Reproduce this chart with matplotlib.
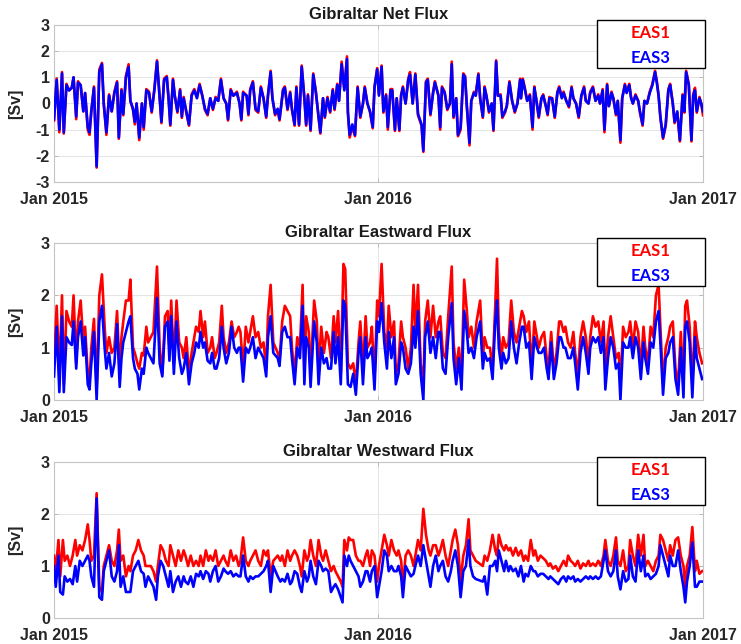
import numpy as np # numerical arrays and dates
import matplotlib
matplotlib.use('Agg')
import matplotlib.pyplot as plt # plotting
from matplotlib.patches import Rectangle # legend box

# ---- data (days since 1 Jan 2015, flux in Sv) ----
net_days = [0,3,6,9,11,14,17,20,22,25,27,30,33,35,38,40,42,45,48,51,
            54,56,59,62,65,68,71,73,76,78,81,84,86,89,91,93,96,99,101,104,
            107,110,113,116,119,121,124,127,129,131,134,136,139,142,144,146,149,152,155,158,
            161,164,167,170,173,176,179,182,185,188,191,194,196,199,202,206,209,211,213,217,
            219,221,224,227,230,233,236,239,241,244,246,249,252,254,258,260,263,266,268,271,
            273,276,279,282,284,286,289,292,295,298,300,303,305,308,311,314,316,319,321,324,
            327,330,331,333,336,339,342,345,348,350,353,356,359,361,364,
            366,369,371,374,376,379,381,384,386,389,391,393,396,399,401,404,407,410,414,416,
            419,421,424,427,429,433,435,437,440,443,446,448,450,453,455,458,461,463,465,468,
            470,473,475,478,480,483,485,487,490,493,495,498,500,503,505,508,510,513,516,519,
            522,525,526,528,530,533,536,539,541,543,546,549,551,554,556,558,561,564,567,569,
            572,574,577,580,583,585,588,591,594,597,599,602,604,607,610,613,615,618,620,623,
            625,628,630,633,635,638,640,643,645,648,650,652,655,658,660,663,665,668,671,674,
            677,679,681,683,686,689,692,694,697,699,702,705,708,710,712,715,718,720,722,724,
            727,729,731]
net_eas1 = [-0.65,0.95,-1.1,1.2,-1.15,0.75,0.5,0.6,1.0,-0.6,
            0.85,0.7,-0.3,0.4,-1.0,-1.2,-0.3,0.65,-2.45,1.3,
            1.55,0.0,-1.2,0.35,-0.3,0.45,0.85,-1.35,0.55,-0.45,
            1.05,1.5,0.1,-0.25,-0.8,0.0,-1.4,0.0,-1.0,0.55,
            0.45,-0.35,0.55,1.65,0.2,-0.75,0.95,1.05,0.2,-0.85,
            0.95,0.3,-0.35,0.55,-0.55,0.25,-0.35,-0.85,0.35,0.55,
            0.25,0.75,0.3,-0.25,-0.45,0.2,-0.25,0.25,0.1,0.95,
            0.2,0.0,-0.65,0.55,0.3,0.45,0.0,-0.65,0.45,0.3,
            -0.45,0.55,0.85,-0.25,-0.35,0.65,0.2,-0.55,0.3,1.25,
            0.2,-0.45,-0.25,-0.65,0.55,0.65,-0.25,0.45,-0.25,-0.85,
            0.65,-0.85,1.45,0.2,-0.85,0.35,-1.05,1.15,0.45,-0.55,
            -1.15,0.2,-0.55,0.25,-0.35,0.55,-0.25,0.75,0.1,1.6,
            0.55,1.8,-0.35,-1.3,-0.9,-1.25,0.65,-0.55,0.0,0.65,
            0.0,-0.35,-0.95,0.65,1.35,
            0.35,1.45,-0.35,0.35,-1.0,0.55,0.55,-1.05,0.2,-1.05,
            0.35,0.65,0.0,0.95,1.2,0.0,1.15,-0.45,-0.85,-1.85,
            0.85,0.95,-0.45,0.45,0.85,0.3,-1.0,0.65,0.45,-0.25,
            0.0,1.6,-0.55,0.2,-1.25,-1.0,1.15,1.05,-0.1,-1.6,
            0.1,0.45,0.3,1.15,0.2,-0.55,0.65,0.3,-0.35,0.0,
            -1.05,1.65,0.3,0.35,-0.55,-0.35,-0.1,0.85,0.1,-0.35,
            0.0,0.95,0.2,0.95,0.65,0.1,0.35,-1.0,0.65,0.2,
            -0.55,0.2,0.35,-0.1,-0.45,0.25,0.2,-0.55,0.45,0.65,
            0.25,0.45,0.1,-0.15,0.65,0.2,0.0,-0.55,0.3,0.65,
            0.1,0.0,0.45,0.65,0.1,0.35,0.0,0.55,-1.1,0.75,
            -0.1,0.45,0.2,-0.45,0.1,-1.5,0.2,0.75,0.45,0.75,
            0.25,0.0,0.35,0.1,-0.35,-0.85,0.1,0.0,0.45,0.75,
            1.25,0.85,0.3,-0.55,-1.35,-0.85,0.55,0.75,0.0,-0.75,
            -0.35,-1.45,0.35,-0.35,1.25,0.75,-1.45,0.35,0.6,-0.35,
            0.25,0.0,-0.45]
net_eas3 = [-0.6,0.9,-1.0,1.15,-1.1,0.7,0.5,0.6,1.0,-0.5,
            0.8,0.7,-0.3,0.4,-0.9,-1.1,-0.3,0.6,-2.4,1.2,
            1.5,0.0,-1.1,0.3,-0.3,0.4,0.8,-1.3,0.5,-0.4,
            1.0,1.4,0.1,-0.2,-0.7,0.0,-1.3,0.0,-0.9,0.5,
            0.4,-0.3,0.5,1.6,0.2,-0.7,0.9,1.0,0.2,-0.8,
            0.9,0.3,-0.3,0.5,-0.5,0.2,-0.3,-0.8,0.3,0.5,
            0.2,0.7,0.3,-0.2,-0.4,0.2,-0.2,0.2,0.1,0.9,
            0.2,0.0,-0.6,0.5,0.3,0.4,0.0,-0.6,0.4,0.3,
            -0.4,0.5,0.8,-0.2,-0.3,0.6,0.2,-0.5,0.3,1.2,
            0.2,-0.4,-0.2,-0.6,0.5,0.6,-0.2,0.4,-0.2,-0.8,
            0.6,-0.8,1.4,0.2,-0.8,0.3,-1.0,1.1,0.4,-0.5,
            -1.1,0.2,-0.5,0.2,-0.3,0.5,-0.2,0.7,0.1,1.5,
            0.5,1.7,-0.3,-1.2,-0.8,-1.2,0.6,-0.5,0.0,0.6,
            0.0,-0.3,-0.9,0.6,1.3,
            0.3,1.4,-0.3,0.3,-0.9,0.5,0.5,-1.0,0.2,-1.0,
            0.3,0.6,0.0,0.9,1.1,0.0,1.1,-0.4,-0.8,-1.8,
            0.8,0.9,-0.4,0.4,0.8,0.3,-0.9,0.6,0.4,-0.2,
            0.0,1.5,-0.5,0.2,-1.2,-0.9,1.1,1.0,-0.1,-1.5,
            0.1,0.4,0.3,1.1,0.2,-0.5,0.6,0.3,-0.3,0.0,
            -1.0,1.6,0.3,0.3,-0.5,-0.3,-0.1,0.8,0.1,-0.3,
            0.0,0.9,0.2,0.9,0.6,0.1,0.3,-0.9,0.6,0.2,
            -0.5,0.2,0.3,-0.1,-0.4,0.2,0.2,-0.5,0.4,0.6,
            0.2,0.4,0.1,-0.1,0.6,0.2,0.0,-0.5,0.3,0.6,
            0.1,0.0,0.4,0.6,0.1,0.3,0.0,0.5,-1.0,0.7,
            -0.1,0.4,0.2,-0.4,0.1,-1.4,0.2,0.7,0.4,0.7,
            0.2,0.0,0.3,0.1,-0.3,-0.8,0.1,0.0,0.4,0.7,
            1.2,0.8,0.3,-0.5,-1.3,-0.8,0.5,0.7,0.0,-0.7,
            -0.3,-1.4,0.3,-0.3,1.2,0.7,-1.4,0.3,0.5,-0.3,
            0.2,0.0,-0.3]

east_days = [0,3,6,9,11,14,17,20,22,25,27,30,33,35,38,40,42,45,48,51,
             54,57,59,62,65,68,71,74,76,78,81,84,86,89,91,94,96,99,101,104,
             106,109,112,116,119,122,125,128,130,132,135,138,141,144,146,149,152,155,158,160,
             163,165,168,170,173,176,178,181,183,186,189,191,194,197,200,203,206,208,210,213,
             216,219,221,224,227,230,233,236,239,241,244,247,
             252,254,257,260,263,266,268,271,274,277,280,282,284,287,289,293,296,298,301,304,
             307,309,312,315,317,320,323,326,328,331,334,337,340,343,345,348,351,353,356,358,
             361,364,366,369,372,375,377,380,383,385,388,391,393,396,399,402,405,407,410,413,
             416,418,421,424,427,430,433,435,438,441,444,448,450,453,456,459,462,465,467,470,
             473,476,
             480,483,485,488,491,494,497,499,501,504,506,509,512,515,518,521,524,527,529,532,
             535,538,541,544,546,549,552,555,557,560,563,566,569,571,574,576,579,582,585,587,
             590,593,596,599,602,604,607,610,613,616,619,621,624,627,630,633,636,638,641,644,
             647,649,652,655,658,661,664,666,669,672,675,678,681,683,686,689,692,694,697,700,
             703,706,709,711,713,716,719,722,724,727,730]
east_eas1 = [0.7,1.8,0.5,2.0,0.3,1.7,1.5,1.4,2.0,0.7,1.5,1.9,1.1,1.4,0.5,0.35,1.0,1.55,0.2,2.0,
             2.4,1.4,0.9,1.2,0.9,1.0,1.7,0.5,1.2,1.5,1.9,1.9,2.3,1.0,0.9,0.7,0.6,0.9,0.85,1.4,
             1.1,1.2,1.3,2.55,1.0,0.5,1.6,1.7,1.0,1.9,0.7,1.9,1.1,1.0,0.8,1.2,0.5,0.9,1.2,1.4,
             1.3,1.7,1.2,1.5,0.9,1.0,1.2,0.8,0.9,1.1,1.8,1.2,0.9,1.1,1.5,1.2,1.3,1.4,1.3,0.6,
             1.4,1.1,1.3,1.6,1.2,1.3,1.0,1.1,0.6,1.6,2.2,1.1,
             0.9,0.75,1.5,1.8,1.7,1.6,1.0,0.5,1.2,1.0,2.2,0.5,1.6,1.3,0.5,1.9,1.5,0.55,1.4,0.9,
             1.3,1.2,0.8,1.6,1.1,1.7,0.5,2.6,2.5,0.7,0.6,0.7,0.3,1.1,1.5,0.6,1.6,1.0,1.1,1.4,
             0.4,1.9,1.6,2.6,1.3,1.0,1.8,1.2,1.5,0.5,0.7,1.5,1.2,1.0,0.6,1.0,2.2,1.3,2.2,0.7,
             0.3,1.5,1.9,1.2,1.8,1.2,1.5,1.6,0.9,0.8,1.6,2.55,1.1,0.6,1.0,0.4,2.3,1.7,1.2,1.4,
             1.0,1.5,
             1.9,0.8,1.2,1.0,1.0,0.6,1.8,2.7,1.3,0.8,1.2,1.0,1.1,1.9,1.3,1.1,1.4,1.7,1.6,1.3,
             1.5,0.6,1.5,1.2,1.0,1.2,1.3,0.8,0.6,1.3,0.55,0.9,1.5,1.5,1.3,1.4,1.1,1.0,1.3,0.9,
             0.5,1.2,1.5,1.2,0.7,1.2,1.6,1.4,1.5,1.1,1.5,0.5,1.2,1.6,1.2,0.8,0.9,0.3,1.4,1.2,
             1.3,1.5,1.0,1.5,1.3,0.6,1.4,1.0,0.7,1.4,1.2,2.0,2.2,1.4,0.3,1.0,1.2,1.4,1.5,0.6,
             0.3,1.3,0.3,1.8,1.9,1.4,0.3,1.5,1.2,0.9,0.7]
east_eas3 = [0.45,1.4,0.15,1.6,0.15,1.2,1.1,1.05,1.5,0.6,1.2,1.5,0.85,1.2,0.3,0.2,0.7,1.3,0.0,1.5,
             1.8,1.0,0.6,0.9,0.45,0.7,1.45,0.25,0.8,1.1,1.3,1.5,1.6,0.8,0.6,0.5,0.2,0.6,0.5,1.0,
             0.9,0.8,0.7,1.95,0.7,0.45,1.4,1.5,0.75,1.6,0.5,1.5,0.8,0.5,0.6,0.9,0.3,0.7,0.9,1.1,
             1.0,1.3,1.0,1.1,0.75,0.7,0.9,0.6,0.6,0.8,1.4,1.0,0.7,0.9,1.4,1.0,0.9,1.0,1.0,0.35,
             1.0,0.9,1.0,1.2,0.8,1.0,0.9,0.8,0.45,1.2,1.6,0.9,
             0.8,0.65,1.3,1.4,1.2,1.2,0.8,0.3,1.0,0.8,1.8,0.3,1.2,1.0,0.25,1.5,1.1,0.3,1.0,0.7,
             0.8,0.6,0.6,1.3,0.7,1.2,0.3,1.9,1.8,0.3,0.25,0.5,0.1,0.9,1.2,0.3,1.2,0.8,0.9,1.0,
             0.2,1.5,1.3,1.85,1.1,0.6,1.3,0.8,1.2,0.3,0.5,1.1,1.0,0.6,0.5,0.7,1.4,1.0,1.7,0.5,
             0.0,1.2,1.5,0.9,1.2,0.8,1.3,1.3,0.6,0.5,1.2,1.85,0.8,0.3,0.8,0.2,1.7,1.3,0.9,1.0,
             0.8,1.2,
             1.5,0.6,0.9,0.75,0.8,0.4,1.5,1.9,1.0,0.6,0.9,0.7,0.8,1.5,1.0,0.7,1.1,1.4,1.4,1.0,
             1.1,0.4,1.2,1.0,0.9,0.9,1.0,0.6,0.4,1.1,0.4,0.7,1.2,1.2,1.0,1.0,0.8,0.8,1.0,0.7,
             0.2,0.9,1.2,0.9,0.5,1.0,1.2,1.1,1.2,0.9,1.2,0.2,0.8,1.2,1.0,0.6,0.7,0.0,1.1,1.0,
             1.0,1.2,0.8,1.2,1.0,0.4,1.1,0.8,0.5,1.1,1.0,1.5,1.7,1.1,0.1,0.8,0.9,1.1,1.2,0.4,
             0.1,1.0,0.05,1.4,1.5,1.1,0.05,1.2,0.8,0.6,0.4]

west_days = [0,2,5,7,10,12,15,18,21,24,26,29,32,35,38,40,42,45,48,51,
             54,56,59,62,65,68,71,73,75,78,81,84,86,89,92,95,98,101,103,106,
             109,112,115,117,120,123,126,129,131,134,137,140,143,146,148,151,154,157,160,163,
             165,168,171,174,176,179,182,185,188,191,193,196,199,202,205,208,210,213,216,219,
             221,224,227,230,233,236,239,241,244,247,
             252,255,257,260,263,266,268,271,274,277,279,282,285,287,289,292,295,298,301,303,
             306,309,312,315,317,320,323,325,327,330,332,334,337,340,343,345,348,351,353,356,
             358,361,364,366,369,372,375,377,380,383,386,388,391,393,396,399,402,405,407,410,
             413,416,419,422,424,427,430,433,435,438,441,444,447,449,452,455,458,461,464,467,
             469,472,475,
             483,485,488,491,494,497,499,501,504,507,509,512,514,517,520,523,526,529,531,534,
             537,540,542,545,548,551,554,557,559,562,565,568,571,574,577,579,582,585,587,590,
             593,596,599,602,604,607,610,613,616,619,621,624,627,630,633,635,638,641,644,647,
             649,652,655,658,661,664,666,669,672,675,678,681,683,686,689,692,694,697,700,703,
             706,709,711,713,716,719,722,724,727,730]
west_eas1 = [1.2,0.9,1.5,0.8,1.5,1.1,1.2,1.0,1.2,1.5,1.2,1.4,1.3,1.5,1.8,1.5,1.1,1.2,2.4,0.6,
             0.5,1.0,1.2,1.4,1.1,1.0,1.3,1.7,1.1,1.2,0.8,1.0,0.9,1.2,1.3,1.5,1.3,1.2,1.0,1.0,
             1.0,0.9,0.7,1.0,1.4,1.3,1.1,1.0,1.4,1.2,1.0,1.3,1.1,1.3,1.2,1.0,1.2,1.0,1.1,1.0,
             1.2,1.0,1.3,1.1,1.2,1.1,1.3,1.0,1.1,1.2,1.1,1.0,1.3,1.1,1.2,1.0,1.1,1.55,1.1,1.0,
             1.1,1.2,1.3,1.1,1.0,1.3,1.2,1.3,0.8,1.1,
             1.2,1.1,1.2,1.0,1.3,1.1,1.2,1.3,1.2,1.0,0.8,1.3,1.1,1.2,1.5,1.2,1.0,1.5,1.2,1.1,
             1.3,1.1,0.9,1.0,0.9,0.8,0.7,0.6,1.5,1.3,1.55,1.5,1.5,1.2,1.1,1.1,1.0,1.2,1.3,1.0,
             1.3,1.2,0.7,1.0,1.3,1.6,1.4,1.2,1.5,1.3,1.2,1.3,1.1,0.6,1.2,1.3,1.2,1.0,1.2,1.5,
             1.3,2.1,1.6,1.3,1.2,1.4,1.4,1.2,1.3,1.5,1.2,1.0,1.3,1.5,1.7,1.4,0.7,1.2,1.4,1.9,
             1.3,1.2,1.1,
             1.0,1.2,1.1,1.3,1.6,1.3,1.2,1.6,1.4,1.3,1.4,1.3,1.35,1.2,1.35,1.2,1.3,1.1,1.2,1.1,
             1.5,1.2,1.3,1.1,1.2,1.15,1.1,1.0,1.05,0.95,1.0,0.9,1.0,1.1,1.0,1.2,1.1,1.05,1.0,1.1,
             0.95,1.05,1.0,1.1,1.0,1.05,1.0,1.1,1.0,1.2,1.5,1.1,1.0,1.2,1.55,1.1,1.0,1.3,0.9,1.0,
             1.5,1.2,1.0,1.6,1.2,1.6,1.0,1.1,1.0,0.9,1.1,1.2,1.6,1.5,1.3,1.1,1.4,1.2,1.5,1.55,
             1.2,1.0,0.6,1.0,1.2,1.75,0.9,1.1,0.85,0.9]
west_eas3 = [1.0,0.6,1.2,0.5,0.45,0.8,0.7,0.75,0.65,1.0,0.7,1.1,1.0,1.1,1.2,1.1,0.8,0.6,2.3,0.4,
             0.35,0.9,1.1,1.3,0.8,0.7,0.9,1.4,0.6,0.8,0.5,0.5,0.5,0.9,1.0,1.1,0.9,0.85,0.6,0.8,
             0.7,0.6,0.35,0.8,1.1,1.0,0.8,0.6,0.9,0.5,0.7,0.8,0.6,0.8,0.7,0.65,0.8,0.6,0.85,0.8,
             0.9,0.75,0.9,0.85,0.7,0.9,1.0,0.7,0.8,0.95,0.9,0.85,0.9,0.8,0.85,0.8,0.8,1.2,0.8,0.7,
             0.8,0.75,0.8,0.8,0.85,0.9,1.0,1.1,0.5,1.0,
             0.8,0.7,0.75,0.7,0.85,0.65,0.7,0.9,0.85,0.6,0.5,0.9,0.7,0.8,1.1,0.8,0.65,1.1,1.0,0.9,
             0.95,0.9,0.5,0.6,0.65,0.55,0.4,0.3,1.2,1.0,1.2,1.1,1.0,0.9,0.8,0.6,0.7,0.9,0.9,0.7,
             0.9,1.0,0.4,0.6,0.9,1.3,1.2,0.9,1.0,0.9,0.9,1.0,0.8,0.4,1.0,0.9,0.8,0.85,1.0,1.2,
             1.0,1.4,1.1,0.8,0.6,1.0,1.2,0.9,1.0,1.1,0.8,0.7,0.9,1.1,1.3,1.0,0.4,0.9,1.0,1.5,
             1.0,0.8,0.75,
             0.7,0.8,0.45,1.0,1.0,1.1,0.9,1.3,1.1,0.9,1.1,0.9,1.0,0.9,0.95,0.8,1.0,0.7,0.85,0.8,
             1.0,0.9,0.9,0.8,0.85,0.85,0.8,0.75,0.8,0.75,0.7,0.65,0.75,0.8,0.7,0.8,0.75,0.8,0.7,0.75,
             0.7,0.75,0.8,0.75,0.8,0.75,0.8,0.75,0.8,1.1,1.3,0.9,0.8,0.9,1.3,0.8,0.55,0.9,0.7,0.75,
             1.2,0.8,0.7,1.3,0.9,1.2,0.8,0.85,0.75,0.8,0.85,1.0,1.4,1.2,1.0,0.8,1.2,1.0,1.0,1.3,
             0.9,0.6,0.3,0.7,1.0,1.45,0.6,0.6,0.7,0.7]

titles = ['Gibraltar Net Flux', 'Gibraltar Eastward Flux', 'Gibraltar Westward Flux']
series_names = ['EAS1', 'EAS3']
tick_labels = ['Jan 2015', 'Jan 2016', 'Jan 2017']
tick_dates = ['2015-01-01', '2016-01-01', '2017-01-01']

start = np.datetime64('2015-01-01') # first day of the record

def to_dates(days):
    return start + np.array(days, dtype='timedelta64[D]')

panels = [
    (net_days, net_eas1, net_eas3, np.arange(-3, 4)),
    (east_days, east_eas1, east_eas3, np.arange(0, 4)),
    (west_days, west_eas1, west_eas3, np.arange(0, 4)),
]

plt.rcParams['font.family'] = ['Liberation Sans', 'DejaVu Sans']
plt.rcParams['font.weight'] = 'bold'
plt.rcParams['axes.unicode_minus'] = False # plain hyphen for negative ticks

fig = plt.figure(figsize=(7.41, 6.44), dpi=100)
boxes = [[0.0729, 0.7174, 0.8758, 0.2438],
         [0.0729, 0.3789, 0.8758, 0.2438],
         [0.0729, 0.0404, 0.8758, 0.2422]]

for i, (days, eas1, eas3, yticks) in enumerate(panels):
    ax = fig.add_axes(boxes[i])
    t = to_dates(days)
    ax.plot(t, eas1, color='#ff0000', lw=1.9, zorder=3) # EAS1 underneath
    ax.plot(t, eas3, color='#0000ff', lw=1.9, zorder=4) # EAS3 on top
    ax.set_xlim(np.datetime64(tick_dates[0]), np.datetime64(tick_dates[-1]))
    ax.set_ylim(yticks[0], yticks[-1])
    ax.set_yticks(yticks)
    ax.set_xticks([np.datetime64(d) for d in tick_dates])
    ax.set_xticklabels(tick_labels)
    ax.grid(True, color='#e4e4e4', lw=0.7, zorder=0)
    ax.tick_params(direction='in', top=True, right=True, length=3, width=0.6,
                   color='#b0b0b0', labelsize=11.5, labelcolor='#262626')
    ax.tick_params(axis='x', pad=7)
    ax.tick_params(axis='y', pad=3)
    for s in ax.spines.values():
        s.set_color('#c4c4c4')
        s.set_linewidth(0.8)
    ax.set_title(titles[i], fontsize=12, fontweight='bold', pad=4, color='#1a1a1a')
    ax.set_ylabel('[Sv]', fontsize=11.5, fontweight='bold', color='#262626')
    ax.yaxis.set_label_coords(-0.048, 0.5)

    # legend drawn as a box with coloured text (no line handles)
    ax.add_patch(Rectangle((0.8367, 0.726), 0.1664, 0.306, transform=ax.transAxes,
                           facecolor='white', edgecolor='black', lw=1.0, clip_on=False, zorder=10))
    ax.text(0.919, 0.949, series_names[0], transform=ax.transAxes, color='#ff0000',
            fontsize=12, fontweight='bold', family=['Lato', 'DejaVu Sans'],
            ha='center', va='center', zorder=11)
    ax.text(0.919, 0.790, series_names[1], transform=ax.transAxes, color='#0000ff',
            fontsize=12, fontweight='bold', family=['Lato', 'DejaVu Sans'],
            ha='center', va='center', zorder=11)

plt.savefig('out.png', dpi=100)
